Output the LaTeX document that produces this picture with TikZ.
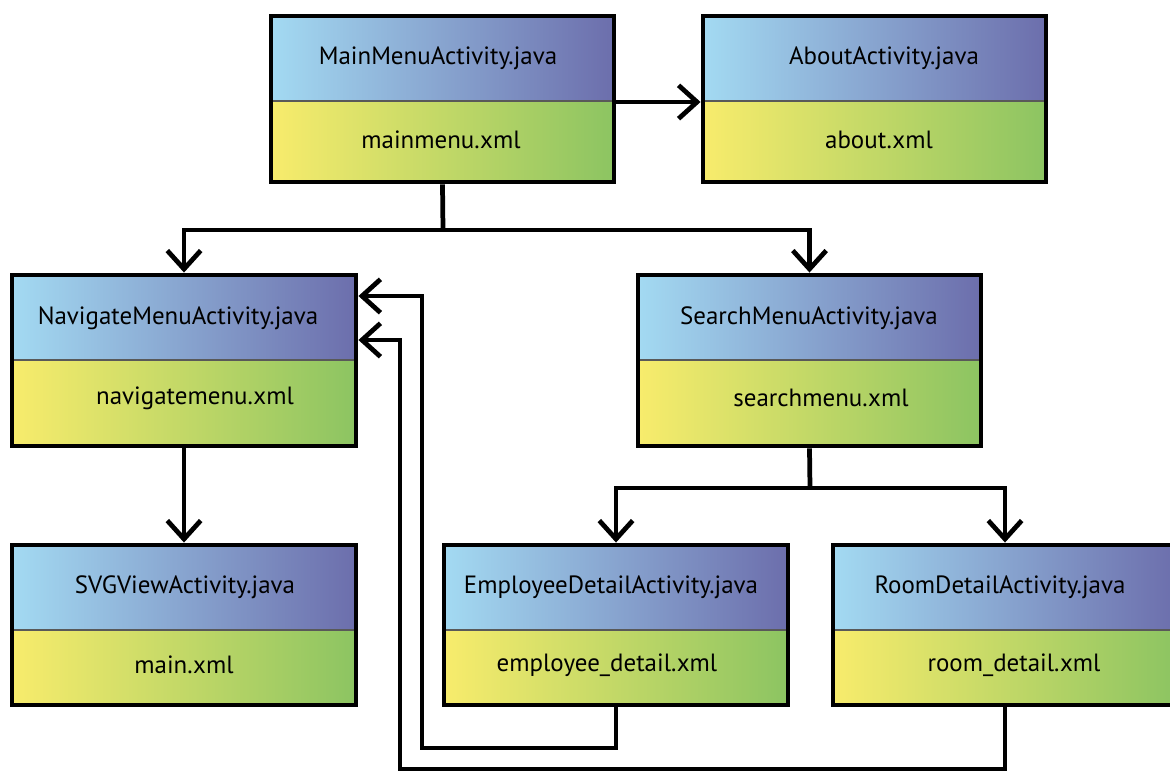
\documentclass[tikz,border=0pt]{standalone}
\usepackage{fontspec}
\setmainfont{PT Sans}
\usetikzlibrary{arrows.meta}

\definecolor{javaL}{RGB}{163,218,242}
\definecolor{javaR}{RGB}{108,110,172}
\definecolor{xmlL}{RGB}{248,236,108}
\definecolor{xmlR}{RGB}{140,196,98}

\tikzset{
  half/.style={draw=black!65, line width=0.6pt, inner sep=0pt, outer sep=0pt},
  javahalf/.style={half, left color=javaL, right color=javaR},
  xmlhalf/.style={half, left color=xmlL, right color=xmlR},
  frame/.style={draw=black, line width=2.8pt, inner sep=0pt},
  lbl/.style={font=\fontsize{14.2pt}{17pt}\selectfont, inner sep=0pt},
  wire/.style={draw=black, line width=2.7pt, line join=miter},
  barb/.tip={Straight Barb[length=10.5pt, width=19pt]},
  flow/.style={wire, -barb},
  fork/.style={wire, barb-barb},
}

% one class/layout pair: name, x1, x2, y1, ydiv, y2
\newcommand\pairbox[6]{%
  \node[javahalf, minimum width={(#3-#2)*0.02cm}, minimum height={(#5-#4)*0.02cm}]
    (#1J) at ({(#2+#3)/2},{(#4+#5)/2}) {};
  \node[xmlhalf, minimum width={(#3-#2)*0.02cm}, minimum height={(#6-#5)*0.02cm}]
    (#1X) at ({(#2+#3)/2},{(#5+#6)/2}) {};
  \node[frame, minimum width={(#3-#2)*0.02cm}, minimum height={(#6-#4)*0.02cm}]
    (#1) at ({(#2+#3)/2},{(#4+#6)/2}) {};
}

\begin{document}
\begin{tikzpicture}[x=0.02cm, y=-0.02cm]
\useasboundingbox (0,0) rectangle (1170,771);
\clip (0,0) rectangle (1170,771);

% boxes
\pairbox{main}{271}{614}{16}{101}{182}
\pairbox{about}{703}{1046}{16}{101}{182}
\pairbox{nav}{12}{356}{275}{360}{446}
\pairbox{search}{638}{981}{275}{360}{446}
\pairbox{svg}{12}{356}{545}{630}{705}
\pairbox{emp}{444}{788}{545}{630}{705}
\pairbox{room}{833}{1177}{545}{630}{705}

% labels
\node[lbl] (mainT)   at (438,58)  {MainMenuActivity.java};
\node[lbl] (mainF)   at (441,140) {mainmenu.xml};
\node[lbl] (aboutT)  at (884,58)  {AboutActivity.java};
\node[lbl] (aboutF)  at (879,140) {about.xml};
\node[lbl] (navT)    at (178,318) {NavigateMenuActivity.java};
\node[lbl] (navF)    at (195,398) {navigatemenu.xml};
\node[lbl] (searchT) at (809,318) {SearchMenuActivity.java};
\node[lbl] (searchF) at (821,398) {searchmenu.xml};
\node[lbl] (svgT)    at (185,587) {SVGViewActivity.java};
\node[lbl] (svgF)    at (184,665) {main.xml};
\node[lbl] (empT)    at (611,587) {EmployeeDetailActivity.java};
\node[lbl] (empF)    at (607,665) {employee\_detail.xml};
\node[lbl] (roomT)   at (1000,587) {RoomDetailActivity.java};
\node[lbl] (roomF)   at (1014,665) {room\_detail.xml};

% junctions and bends
\coordinate (mainJoin)   at (443,230);
\coordinate (searchJoin) at (810,488);
\coordinate (aboutLink)  at (650,102);
\coordinate (empDown)    at (616,748);
\coordinate (empLeft)    at (422,748);
\coordinate (empUp)      at (422,296);
\coordinate (roomDown)   at (1005,769);
\coordinate (roomLeft)   at (400,769);
\coordinate (roomUp)     at (400,340);

% connectors
\draw[flow] (main.east |- aboutLink) -- (about.west |- aboutLink);

\draw[wire] (main.south) -- (mainJoin);
\draw[fork] (nav.north) |- (mainJoin) -| (search.north);

\draw[flow] (nav.south) -- (svg.north);

\draw[wire] (search.south) -- (searchJoin);
\draw[fork] (emp.north) |- (searchJoin) -| (room.north);

\draw[flow] (emp.south) -- (empDown) -- (empLeft) -- (empUp) -- (nav.east |- empUp);
\draw[flow] (room.south) -- (roomDown) -- (roomLeft) -- (roomUp) -- (nav.east |- roomUp);
\end{tikzpicture}
\end{document}
